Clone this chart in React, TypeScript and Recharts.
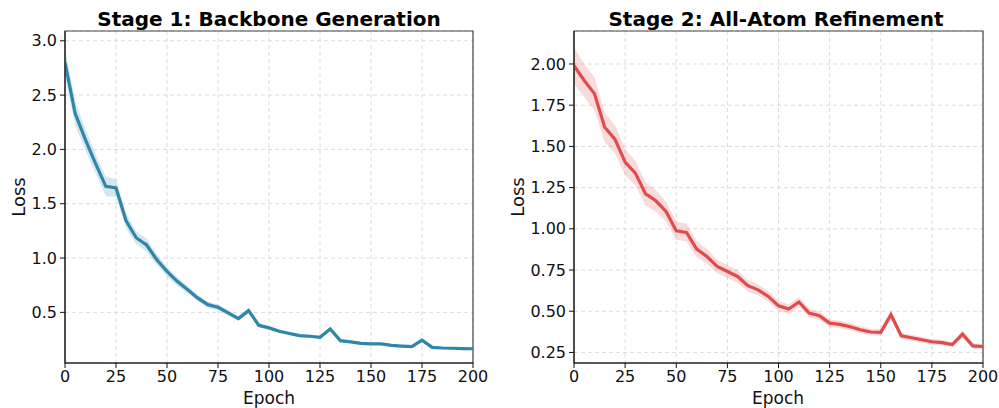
import {
  ComposedChart,
  Line,
  Area,
  XAxis,
  YAxis,
  CartesianGrid,
  ReferenceArea,
} from 'recharts'

const epochs = [
  0, 5, 10, 15, 20, 25, 30, 35, 40, 45, 50, 55, 60, 65, 70, 75, 80, 85, 90, 95, 100,
  105, 110, 115, 120, 125, 130, 135, 140, 145, 150, 155, 160, 165, 170, 175, 180, 185, 190, 195, 200,
]

const backboneLoss = [
  2.8, 2.33, 2.09, 1.87, 1.66, 1.645, 1.34, 1.185, 1.12, 0.985,
  0.878, 0.786, 0.71, 0.633, 0.571, 0.547, 0.495, 0.443, 0.516, 0.381,
  0.357, 0.326, 0.305, 0.286, 0.28, 0.27, 0.347, 0.24, 0.228, 0.215,
  0.21, 0.21, 0.197, 0.19, 0.185, 0.245, 0.178, 0.172, 0.17, 0.167, 0.165,
]
const backboneStd = [
  0.13, 0.11, 0.1, 0.09, 0.09, 0.08, 0.07, 0.06, 0.06, 0.05,
  0.045, 0.04, 0.035, 0.03, 0.03, 0.028, 0.025, 0.022, 0.025, 0.02,
  0.018, 0.017, 0.016, 0.015, 0.014, 0.014, 0.017, 0.012, 0.012, 0.011,
  0.011, 0.011, 0.01, 0.01, 0.01, 0.012, 0.009, 0.009, 0.009, 0.009, 0.009,
]

const refineLoss = [
  1.99, 1.9, 1.82, 1.616, 1.544, 1.405, 1.338, 1.212, 1.17, 1.105,
  0.988, 0.978, 0.877, 0.832, 0.772, 0.741, 0.711, 0.655, 0.63, 0.59,
  0.533, 0.513, 0.556, 0.489, 0.473, 0.428, 0.42, 0.406, 0.388, 0.374,
  0.372, 0.479, 0.351, 0.339, 0.327, 0.315, 0.31, 0.298, 0.361, 0.29, 0.286,
]
const refineStd = [
  0.11, 0.1, 0.1, 0.09, 0.085, 0.08, 0.075, 0.07, 0.065, 0.06,
  0.055, 0.055, 0.05, 0.045, 0.04, 0.04, 0.038, 0.035, 0.033, 0.032,
  0.03, 0.028, 0.03, 0.027, 0.026, 0.024, 0.023, 0.022, 0.021, 0.02,
  0.02, 0.026, 0.019, 0.018, 0.018, 0.017, 0.017, 0.016, 0.02, 0.016, 0.016,
]

const epochTicks = [0, 25, 50, 75, 100, 125, 150, 175, 200]
const backboneTicks = [0.5, 1.0, 1.5, 2.0, 2.5, 3.0]
const refineTicks = [0.25, 0.5, 0.75, 1.0, 1.25, 1.5, 1.75, 2.0]

const FONT = '"DejaVu Sans", sans-serif'

function rows(loss: number[], std: number[]) {
  return epochs.map((epoch, i) => ({
    epoch,
    loss: loss[i],
    band: [loss[i] - std[i], loss[i] + std[i]],
  }))
}

interface PanelProps {
  data: { epoch: number; loss: number; band: number[] }[]
  color: string
  yDomain: [number, number]
  yTicks: number[]
  decimals: number
  width: number
  yWidth: number
  marginLeft: number
  marginRight: number
}

function Panel({ data, color, yDomain, yTicks, decimals, width, yWidth, marginLeft, marginRight }: PanelProps) {
  const tick = { fontSize: 16, fill: '#111', fontFamily: FONT }
  return (
    <ComposedChart
      width={width}
      height={408}
      data={data}
      margin={{ top: 31, right: marginRight, bottom: 0, left: marginLeft }}
    >
      <CartesianGrid stroke="#dcdcdc" strokeDasharray="4 3" />
      <XAxis
        dataKey="epoch"
        type="number"
        domain={[0, 200]}
        ticks={epochTicks}
        allowDataOverflow
        height={45}
        tickSize={5}
        tickMargin={3}
        tick={tick}
        stroke="#111"
      />
      <YAxis
        type="number"
        domain={yDomain}
        ticks={yTicks}
        allowDataOverflow
        width={yWidth}
        tickSize={5}
        tickMargin={3}
        tick={tick}
        stroke="#111"
        tickFormatter={(v: number) => v.toFixed(decimals)}
      />
      <Area
        dataKey="band"
        stroke="none"
        fill={color}
        fillOpacity={0.2}
        isAnimationActive={false}
        activeDot={false}
      />
      <Line
        dataKey="loss"
        stroke={color}
        strokeWidth={3.2}
        dot={false}
        isAnimationActive={false}
      />
      <ReferenceArea
        x1={0}
        x2={200}
        y1={yDomain[0]}
        y2={yDomain[1]}
        fill="none"
        stroke="#444"
        strokeWidth={1.2}
        ifOverflow="visible"
      />
    </ComposedChart>
  )
}

export default function App() {
  return (
    <div style={{ position: 'absolute', left: 0, top: 0, width: 999, height: 408, background: '#fff' }}>
      <div style={{ position: 'absolute', left: 0, top: 0 }}>
        <Panel
          data={rows(backboneLoss, backboneStd)}
          color="#2E86AB"
          yDomain={[0.034, 3.09]}
          yTicks={backboneTicks}
          decimals={1}
          width={490}
          yWidth={50}
          marginLeft={15}
          marginRight={17}
        />
      </div>
      <div style={{ position: 'absolute', left: 500, top: 0 }}>
        <Panel
          data={rows(refineLoss, refineStd)}
          color="#E04B4B"
          yDomain={[0.186, 2.2]}
          yTicks={refineTicks}
          decimals={2}
          width={499}
          yWidth={60}
          marginLeft={14}
          marginRight={16}
        />
      </div>
      <svg
        width={999}
        height={408}
        style={{ position: 'absolute', left: 0, top: 0, pointerEvents: 'none' }}
        fontFamily={FONT}
      >
        <text x={269} y={26} textAnchor="middle" fontSize={20} fontWeight="bold" fill="#000">
          Stage 1: Backbone Generation
        </text>
        <text x={776} y={26} textAnchor="middle" fontSize={20} fontWeight="bold" fill="#000">
          Stage 2: All-Atom Refinement
        </text>
        <text x={269} y={404} textAnchor="middle" fontSize={17} fill="#111">Epoch</text>
        <text x={778} y={404} textAnchor="middle" fontSize={17} fill="#111">Epoch</text>
        <text x={25} y={197} textAnchor="middle" fontSize={18} fill="#111" transform="rotate(-90 25 197)">
          Loss
        </text>
        <text x={524} y={197} textAnchor="middle" fontSize={18} fill="#111" transform="rotate(-90 524 197)">
          Loss
        </text>
      </svg>
    </div>
  )
}
